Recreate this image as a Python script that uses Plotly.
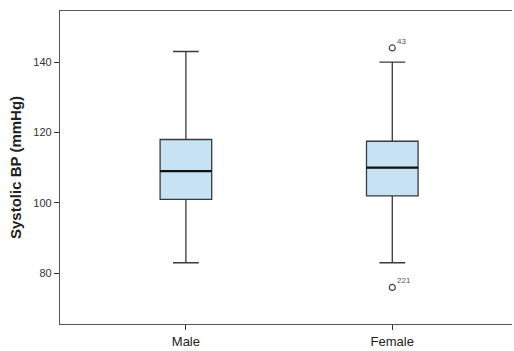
import plotly.graph_objects as go

# Summary statistics of systolic blood pressure by sex
groups = ["Male", "Female"]
q1 = [101, 102]
median = [109, 110]
q3 = [118, 117.5]
lower_whisker = [83, 83]
upper_whisker = [143, 140]

# Outliers (group index, value, case id)
outlier_group = [1, 1]
outlier_value = [144, 76]
outlier_id = ["43", "221"]

y_ticks = [80, 100, 120, 140]

box_width = 0.25
positions = list(range(len(groups)))

fig = go.Figure()

fig.add_trace(go.Box(
    x=positions,
    q1=q1, median=median, q3=q3,
    lowerfence=lower_whisker, upperfence=upper_whisker,
    width=box_width,
    whiskerwidth=0.5,
    fillcolor="#c6e2f3",
    line=dict(color="#3a3a3a", width=1.3),
    boxpoints=False,
    hoverinfo="skip",
    showlegend=False,
))

# Heavier median lines drawn over the boxes
for i, m in enumerate(median):
    fig.add_trace(go.Scatter(
        x=[positions[i] - box_width / 2, positions[i] + box_width / 2],
        y=[m, m],
        mode="lines",
        line=dict(color="#111111", width=2.2),
        showlegend=False,
        hoverinfo="skip",
    ))

# Outlier points with case labels
fig.add_trace(go.Scatter(
    x=[positions[g] for g in outlier_group],
    y=outlier_value,
    mode="markers",
    marker=dict(symbol="circle-open", size=6, color="#444444", line=dict(width=1.2)),
    showlegend=False,
    hoverinfo="skip",
))
for g, v, label in zip(outlier_group, outlier_value, outlier_id):
    fig.add_annotation(
        x=positions[g], y=v, text=label, showarrow=False,
        xanchor="left", yanchor="bottom", xshift=3, yshift=0,
        font=dict(family="Liberation Sans, Arial", size=8, color="#555555"),
    )

fig.update_layout(
    width=514, height=351,
    margin=dict(l=60, r=2, t=11, b=20),
    paper_bgcolor="white",
    plot_bgcolor="white",
    font=dict(family="Liberation Sans, Arial", color="#222222"),
    xaxis=dict(
        range=[-0.61, 1.58],
        tickvals=positions, ticktext=groups,
        ticks="outside", ticklen=5, tickcolor="#333333",
        tickfont=dict(size=13, color="#222222"),
        showline=True, linecolor="#555555", linewidth=1.2, mirror=True,
        showgrid=False, zeroline=False,
    ),
    yaxis=dict(
        range=[65.6, 154.5],
        tickvals=y_ticks,
        ticks="outside", ticklen=5, tickcolor="#333333",
        tickfont=dict(size=11, color="#333333"),
        showline=True, linecolor="#555555", linewidth=1.2, mirror=False,
        showgrid=False, zeroline=False,
        title=dict(text="<b>Systolic BP (mmHg)</b>", font=dict(size=15, color="#222222"), standoff=8),
    ),
)

fig.write_html("out.html")
